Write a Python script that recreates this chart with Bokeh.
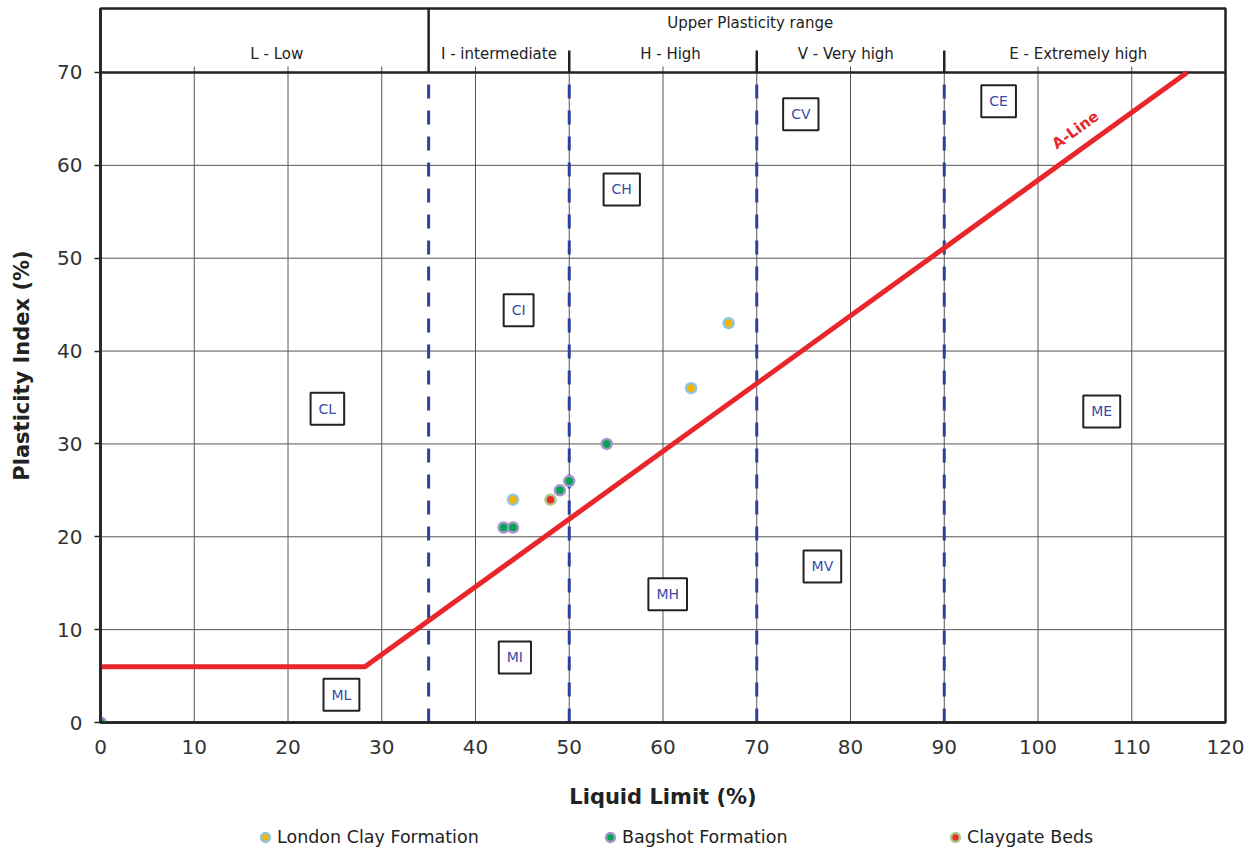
from bokeh.plotting import figure
from bokeh.layouts import column
from bokeh.models import Range1d, FixedTicker, Label, Legend, LegendItem
from bokeh.embed import file_html
from bokeh.resources import INLINE

# ---- data ----
london_ll = [44, 63, 67]
london_pi = [24, 36, 43]
bagshot_ll = [0, 43, 44, 49, 50, 54]
bagshot_pi = [0, 21, 21, 25, 26, 30]
claygate_ll = [48]
claygate_pi = [24]

aline_ll = [0, 28.2, 115.9]
aline_pi = [6, 6, 70]

boundaries = [35, 50, 70, 90]
grid_x = [10, 20, 30, 40, 50, 60, 70, 80, 90, 100, 110]
grid_y = [10, 20, 30, 40, 50, 60]
x_ticks = [0, 10, 20, 30, 40, 50, 60, 70, 80, 90, 100, 110, 120]
y_ticks = [0, 10, 20, 30, 40, 50, 60, 70]

zone_names = ["CL", "ML", "MI", "CI", "CH", "MH", "CV", "MV", "CE", "ME"]
zone_x = [24.2, 25.7, 44.2, 44.6, 55.6, 60.5, 74.7, 77.0, 95.8, 106.8]
zone_y = [33.8, 3.0, 7.0, 44.4, 57.4, 13.8, 65.5, 16.8, 66.9, 33.5]

band_names = ["L - Low", "I - intermediate", "H - High", "V - Very high", "E - Extremely high"]
band_x = [18.8, 42.5, 60.8, 79.5, 104.3]

series_names = ["London Clay Formation", "Bagshot Formation", "Claygate Beds"]
series_fill = ["#f7b500", "#00a651", "#ee2a24"]
series_ring = ["#8ec5e0", "#a594c6", "#a9c98e"]

Y_TOP = 76.89

p = figure(width=1250, height=816, output_backend="svg", toolbar_location=None,
           x_range=Range1d(0, 120), y_range=Range1d(0, Y_TOP),
           min_border_left=100, min_border_right=25, min_border_top=8, min_border_bottom=94)
p.background_fill_color = "white"
p.border_fill_color = "white"
p.outline_line_color = "#222222"
p.outline_line_width = 2.5
p.xgrid.visible = False
p.ygrid.visible = False

# grid lines
p.segment(x0=grid_x, y0=[0] * len(grid_x), x1=grid_x, y1=[70.65] * len(grid_x),
          line_color="#555555", line_width=1)
p.segment(x0=[0] * len(grid_y), y0=grid_y, x1=[120] * len(grid_y), y1=grid_y,
          line_color="#555555", line_width=1)

# band frame
p.segment(x0=[0], y0=[70], x1=[120], y1=[70], line_color="#222222", line_width=2.5)
p.segment(x0=[35], y0=[70], x1=[35], y1=[Y_TOP], line_color="#222222", line_width=2.5)
p.segment(x0=boundaries[1:], y0=[70] * 3, x1=boundaries[1:], y1=[72.37] * 3,
          line_color="#222222", line_width=2.5)

# dashed boundaries
p.segment(x0=boundaries, y0=[0] * 4, x1=boundaries, y1=[70] * 4,
          line_color="#2c409c", line_width=3, line_dash="14 12")

# A-line
p.line(aline_ll, aline_pi, line_color="#e8262b", line_width=5)
p.add_layout(Label(x=104, y=63.8, text="A-Line", angle=35.9, angle_units="deg",
                   text_align="center", text_baseline="middle", text_color="#e8262b",
                   text_font="DejaVu Sans", text_font_style="bold", text_font_size="15px"))

# zone labels
for name, zx, zy in zip(zone_names, zone_x, zone_y):
    p.add_layout(Label(x=zx, y=zy, text=name, text_align="center", text_baseline="middle",
                       text_color="#3b4ba5", text_font="DejaVu Sans", text_font_size="14px",
                       padding=8, border_line_color="#222222", border_line_width=2,
                       background_fill_color="white"))

# band labels
for name, bx in zip(band_names, band_x):
    p.add_layout(Label(x=bx, y=71.94, text=name, text_align="center", text_baseline="middle",
                       text_color="#222222", text_font="DejaVu Sans", text_font_size="15px"))
p.add_layout(Label(x=69.3, y=75.28, text="Upper Plasticity range", text_align="center",
                   text_baseline="middle", text_color="#222222", text_font="DejaVu Sans",
                   text_font_size="15px"))

# scatter
series_data = [(london_ll, london_pi), (bagshot_ll, bagshot_pi), (claygate_ll, claygate_pi)]
for (xs, ys), fc, lc in zip(series_data, series_fill, series_ring):
    p.scatter(xs, ys, size=10, fill_color=fc, line_color=lc, line_width=2.5)

# axes
p.xaxis.ticker = FixedTicker(ticks=x_ticks)
p.yaxis.ticker = FixedTicker(ticks=y_ticks)
for ax in (p.xaxis, p.yaxis):
    ax.axis_line_color = "#222222"
    ax.axis_line_width = 2.5
    ax.major_label_text_font = "DejaVu Sans"
    ax.major_label_text_font_size = "20px"
    ax.major_label_text_color = "#333333"
    ax.axis_label_text_font = "DejaVu Sans"
    ax.axis_label_text_font_style = "bold"
    ax.axis_label_text_font_size = "21px"
    ax.axis_label_text_color = "#222222"
    ax.minor_tick_line_color = None
    ax.major_tick_in = 0

p.xaxis.axis_label = "Liquid Limit (%)"
p.xaxis.major_tick_out = 0
p.xaxis.major_label_standoff = 17
p.xaxis.axis_label_standoff = 28

p.yaxis.axis_label = "Plasticity Index (%)"
p.yaxis.major_tick_out = 6
p.yaxis.major_tick_line_color = "#222222"
p.yaxis.major_tick_line_width = 1.5
p.yaxis.major_label_standoff = 12
p.yaxis.axis_label_standoff = 20

# legend strip below the chart (same series, drawn off-screen; only the legend shows)
q = figure(width=1250, height=34, output_backend="svg", toolbar_location=None,
           x_range=Range1d(0, 120), y_range=Range1d(1000, 1001),
           min_border_left=0, min_border_right=0, min_border_top=0, min_border_bottom=0)
q.axis.visible = False
q.grid.visible = False
q.outline_line_color = None
items = []
for (xs, ys), name, fc, lc in zip(series_data, series_names, series_fill, series_ring):
    r = q.scatter(xs, ys, size=10, fill_color=fc, line_color=lc, line_width=2.5)
    items.append(LegendItem(label=name, renderers=[r]))
legend = Legend(items=items, orientation="horizontal", location=(153, 2),
                glyph_width=24, glyph_height=22, label_standoff=0,
                label_width=311, spacing=10, padding=0, margin=0,
                border_line_alpha=0, background_fill_alpha=0,
                label_text_font="DejaVu Sans", label_text_font_size="17.5px",
                label_text_color="#222222")
q.add_layout(legend, "center")

layout = column(p, q, spacing=0)
open("out.html", "w").write(file_html(layout, INLINE))
